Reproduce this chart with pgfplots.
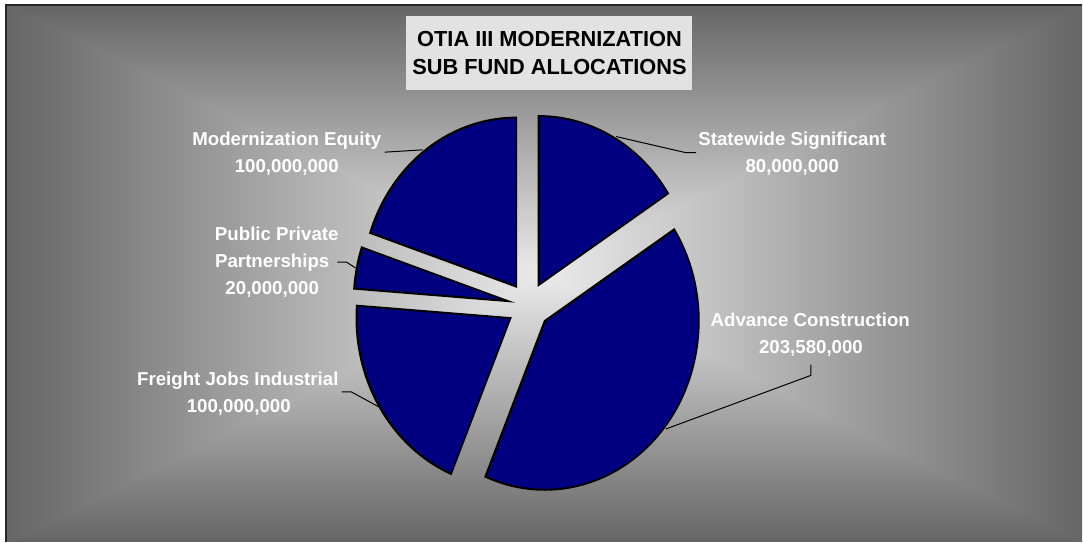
\documentclass[border=0pt]{standalone}
\usepackage{pgfplots}
\usepackage{pgfplotstable}
\pgfplotsset{compat=1.18}
\usepackage{fontspec}
\setmainfont{Liberation Sans}

\definecolor{pieblue}{RGB}{0,0,128}
\definecolor{titlebg}{RGB}{226,226,226}

% rectangular "from centre" gradient, light in the middle, dark at the edges
\pgfdeclarefunctionalshading{fromcenter}{\pgfpointorigin}{\pgfpoint{100bp}{100bp}}{}{
  50 sub abs exch 50 sub abs
  2 copy lt {exch} if pop
  25 div dup 1 gt {pop 1} if
  -0.52 mul 0.92 add
  dup dup
}

% values in millions
\pgfplotstableread[col sep=comma]{
label,value
Statewide Significant,80
Advance Construction,203.58
Freight Jobs Industrial,100
Public Private Partnerships,20
Modernization Equity,100
}\piedata

\pgfplotstablegetelem{0}{value}\of\piedata \let\vA\pgfplotsretval
\pgfplotstablegetelem{1}{value}\of\piedata \let\vB\pgfplotsretval
\pgfplotstablegetelem{2}{value}\of\piedata \let\vC\pgfplotsretval
\pgfplotstablegetelem{3}{value}\of\piedata \let\vD\pgfplotsretval
\pgfplotstablegetelem{4}{value}\of\piedata \let\vE\pgfplotsretval
\pgfmathsetmacro\tot{\vA+\vB+\vC+\vD+\vE}
\pgfmathsetmacro\aA{90}
\pgfmathsetmacro\aB{\aA-360*(\vA/\tot)}
\pgfmathsetmacro\aC{\aB-360*(\vB/\tot)}
\pgfmathsetmacro\aD{\aC-360*(\vC/\tot)}
\pgfmathsetmacro\aE{\aD-360*(\vD/\tot)}
\pgfmathsetmacro\aF{\aE-360*(\vE/\tot)}

% pie centre and explosion (axis units), radii (canvas)
\def\pcx{529}\def\pcy{236}
\def\pex{21.3}\def\pey{23.7}
\def\prx{77pt}\def\pry{84.5pt}

\newcommand\pieslice[2]{%
  \pgfmathsetmacro\pmid{(#1+#2)/2}%
  \pgfmathsetmacro\apx{\pcx+\pex*cos(\pmid)}%
  \pgfmathsetmacro\apy{\pcy+\pey*sin(\pmid)}%
  \edef\temp{\noexpand\filldraw[pieslice] (axis cs:\apx,\apy) -- ++(#1:\prx\space and \pry) arc[start angle=#1, end angle=#2, x radius=\prx, y radius=\pry] -- cycle;}%
  \temp}

\begin{document}
\begin{tikzpicture}[
  pieslice/.style={fill=pieblue, draw=black, line width=1pt, line join=miter},
  lab/.style={text=white, anchor=base, inner sep=0pt, font=\fontsize{9.35}{11}\selectfont\bfseries},
  lead/.style={draw=black, line width=0.5pt},
]
\fill[white] (0,0) rectangle (541.5pt,271pt);
\shade[shading=fromcenter] (3.5pt,0) rectangle (541.5pt,268pt);
\draw[line width=1pt, black!85] (3.1pt,0) -- (3.1pt,268.5pt) -- (541.5pt,268.5pt);

\begin{axis}[
  at={(0,0)}, anchor=south west,
  width=541.5pt, height=271pt, scale only axis,
  xmin=0, xmax=1083, ymin=0, ymax=542,
  hide axis, clip=false,
]
\pieslice{\aA}{\aB}
\pieslice{\aB}{\aC}
\pieslice{\aC}{\aD}
\pieslice{\aD}{\aE}
\pieslice{\aE}{\aF}

% title
\fill[titlebg] (axis cs:406.7,452) rectangle (axis cs:693,526.3);
\node[anchor=base, inner sep=0pt, font=\fontsize{10.9}{13}\selectfont\bfseries] at (axis cs:550,495.3) {OTIA III MODERNIZATION};
\node[anchor=base, inner sep=0pt, font=\fontsize{10.9}{13}\selectfont\bfseries] at (axis cs:550,467) {SUB FUND ALLOCATIONS};

% leader lines
\draw[lead] (axis cs:696.7,389.3) -- (axis cs:686,389.3) -- (axis cs:616.7,405.3);
\draw[lead] (axis cs:385,389.7) -- (axis cs:423,392);
\draw[lead] (axis cs:337.7,279.7) -- (axis cs:346.7,279.7) -- (axis cs:356,273.7);
\draw[lead] (axis cs:342.3,149.7) -- (axis cs:351.7,149.7) -- (axis cs:379.3,134.7);
\draw[lead] (axis cs:811.7,177) -- (axis cs:811.7,166.3) -- (axis cs:666.7,112.7);

% labels
\node[lab] at (axis cs:793,396.3) {Statewide Significant};
\node[lab] at (axis cs:793,369.3) {80,000,000};
\node[lab] at (axis cs:287,396.3) {Modernization Equity};
\node[lab] at (axis cs:287,369.3) {100,000,000};
\node[lab] at (axis cs:277,301) {Public Private};
\node[lab] at (axis cs:272.5,274.3) {Partnerships};
\node[lab] at (axis cs:272.5,247.7) {20,000,000};
\node[lab] at (axis cs:238,156) {Freight Jobs Industrial};
\node[lab] at (axis cs:239,129.3) {100,000,000};
\node[lab] at (axis cs:811,215.3) {Advance Construction};
\node[lab] at (axis cs:811.7,188) {203,580,000};
\end{axis}
\end{tikzpicture}
\end{document}
